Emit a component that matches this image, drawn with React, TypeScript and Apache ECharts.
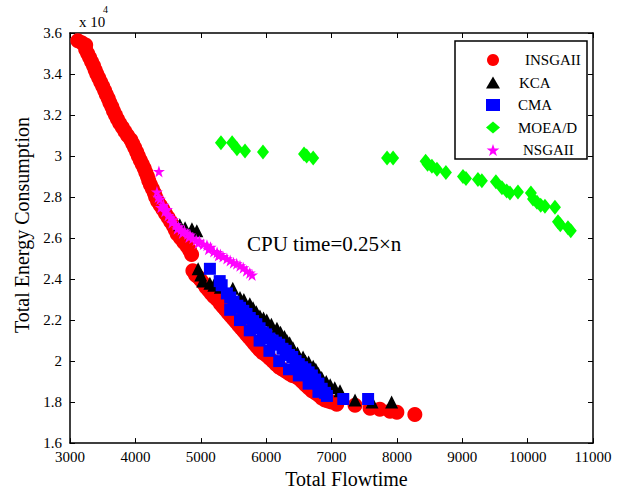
import React, { useEffect, useRef } from "react";
import * as echarts from "echarts";

const seriesNames = ["INSGAII", "KCA", "CMA", "MOEA/D", "NSGAII"];
const xTicks = [3000, 4000, 5000, 6000, 7000, 8000, 9000, 10000, 11000];
const yTicks = [1.6, 1.8, 2.0, 2.2, 2.4, 2.6, 2.8, 3.0, 3.2, 3.4, 3.6];

const insgaii: number[][] = [
  [3120, 3.562], [3180, 3.552], [3240, 3.542], [3240, 3.52], [3270, 3.5], [3300, 3.48], [3330, 3.46],
  [3360, 3.44], [3385, 3.42], [3410, 3.4], [3440, 3.38], [3470, 3.36], [3500, 3.34], [3530, 3.32],
  [3555, 3.3], [3585, 3.28], [3610, 3.26], [3640, 3.24], [3665, 3.22], [3695, 3.2], [3725, 3.18],
  [3760, 3.16], [3800, 3.14], [3840, 3.12], [3880, 3.1], [3930, 3.08], [3960, 3.06], [3990, 3.04],
  [4020, 3.02], [4045, 3.0], [4075, 2.98], [4105, 2.96], [4135, 2.94], [4160, 2.92], [4185, 2.9],
  [4205, 2.88], [4230, 2.86], [4260, 2.84], [4290, 2.82], [4310, 2.8], [4340, 2.78], [4380, 2.76],
  [4420, 2.74], [4460, 2.72], [4500, 2.7], [4540, 2.68], [4580, 2.66], [4610, 2.64], [4640, 2.62],
  [4690, 2.6], [4740, 2.58], [4790, 2.56], [4830, 2.54], [4860, 2.52],
  [4880, 2.44], [4920, 2.42], [4960, 2.41], [5000, 2.395], [5040, 2.38], [5080, 2.36], [5120, 2.345],
  [5160, 2.33], [5200, 2.315], [5250, 2.3], [5300, 2.28], [5340, 2.265], [5380, 2.25], [5420, 2.235],
  [5460, 2.22], [5500, 2.205], [5540, 2.19], [5580, 2.175], [5620, 2.16], [5660, 2.145], [5700, 2.13],
  [5740, 2.115], [5780, 2.1], [5820, 2.085], [5860, 2.07], [5900, 2.055], [5950, 2.04], [6000, 2.03],
  [6050, 2.015], [6100, 2.0], [6150, 1.985], [6200, 1.97], [6250, 1.96], [6300, 1.95], [6350, 1.94],
  [6400, 1.93], [6450, 1.925], [6500, 1.915], [6550, 1.9], [6600, 1.885], [6650, 1.87], [6700, 1.855],
  [6750, 1.845], [6800, 1.835], [6850, 1.82], [6900, 1.81], [6950, 1.805], [7000, 1.8], [7080, 1.79],
  [7360, 1.785], [7590, 1.77], [7740, 1.765], [7895, 1.755], [8000, 1.75], [8275, 1.74],
];

const kca: number[][] = [
  [4680, 2.665], [4760, 2.65], [4865, 2.645], [4940, 2.636],
  [4960, 2.45], [5000, 2.42], [5030, 2.39], [5140, 2.38], [5200, 2.37], [5300, 2.36], [5490, 2.355],
  [5600, 2.31], [5660, 2.3], [5750, 2.28], [5800, 2.26], [5850, 2.24], [5905, 2.22], [5960, 2.21],
  [6010, 2.2], [6080, 2.18], [6165, 2.16], [6220, 2.14], [6280, 2.12], [6318, 2.1], [6360, 2.09],
  [6410, 2.065], [6480, 2.04], [6565, 2.02], [6600, 2.0], [6650, 1.995], [6720, 1.975], [6760, 1.96],
  [6800, 1.94], [6850, 1.92], [6920, 1.9], [6980, 1.885], [7050, 1.87], [7130, 1.855], [7360, 1.81],
  [7620, 1.8], [7920, 1.8],
];

const cma: number[][] = [
  [5140, 2.45], [5290, 2.39], [5320, 2.37], [5400, 2.33], [5450, 2.31], [5500, 2.29], [5560, 2.27],
  [5600, 2.26], [5650, 2.245], [5700, 2.23], [5750, 2.21], [5800, 2.195], [5850, 2.18], [5900, 2.16],
  [5950, 2.14], [6000, 2.13], [6050, 2.11], [6100, 2.1], [6150, 2.09], [6200, 2.08], [6250, 2.06],
  [6300, 2.05], [6350, 2.03], [6400, 2.02], [6450, 2.0], [6500, 1.985], [6550, 1.97], [6600, 1.96],
  [6650, 1.945], [6700, 1.93], [6750, 1.91], [6800, 1.89], [6850, 1.865], [6900, 1.845], [6930, 1.83],
  [7180, 1.815], [7560, 1.815],
  [5450, 2.25], [5600, 2.2], [5750, 2.15], [5900, 2.1], [6050, 2.05], [6200, 2.0], [6350, 1.96],
  [6500, 1.93], [6650, 1.89], [6800, 1.85],
];

const moead: number[][] = [
  [5309, 3.065], [5480, 3.065], [5554, 3.035], [5677, 3.025], [5952, 3.02], [6580, 3.01], [6620, 3.0],
  [6720, 2.99], [7850, 2.99], [7942, 2.99], [8440, 2.975], [8470, 2.96], [8536, 2.95], [8613, 2.935],
  [8750, 2.92], [9011, 2.9], [9057, 2.89], [9240, 2.885], [9300, 2.88], [9515, 2.875], [9607, 2.845],
  [9680, 2.83], [9730, 2.82], [9852, 2.825], [10050, 2.82], [10082, 2.79], [10143, 2.775],
  [10200, 2.76], [10265, 2.755], [10418, 2.75], [10464, 2.68], [10500, 2.665], [10617, 2.65],
  [10660, 2.635],
];

const nsgaii: number[][] = [
  [4360, 2.925],
  [4330, 2.825], [4350, 2.8], [4376, 2.79], [4390, 2.75], [4430, 2.76], [4450, 2.73], [4483, 2.74],
  [4500, 2.71], [4540, 2.7], [4560, 2.675], [4575, 2.69], [4620, 2.665], [4640, 2.645], [4660, 2.655],
  [4700, 2.64], [4720, 2.625], [4750, 2.635], [4800, 2.62], [4820, 2.605], [4835, 2.615], [4880, 2.6],
  [4930, 2.59], [4960, 2.575], [4980, 2.585], [5040, 2.57], [5095, 2.565], [5120, 2.545], [5150, 2.555],
  [5200, 2.535], [5250, 2.53], [5270, 2.515], [5300, 2.52], [5340, 2.51], [5400, 2.5], [5450, 2.49],
  [5500, 2.48], [5550, 2.475], [5600, 2.465], [5650, 2.455], [5700, 2.44], [5750, 2.43], [5785, 2.42],
];

const STAR =
  "path://M50,0 L61.8,35.1 L98.6,35.1 L68.8,56.7 L80.2,91.8 L50,70.1 L19.8,91.8 L31.2,56.7 L1.4,35.1 L38.2,35.1 Z";

const FONT = "Liberation Serif";

export default function App() {
  const ref = useRef<HTMLDivElement>(null);
  useEffect(() => {
    if (!ref.current) return;
    const chart = echarts.init(ref.current, undefined, { renderer: "svg" });
    const axisCommon = {
      type: "value" as const,
      axisLine: { show: true, lineStyle: { color: "#000", width: 1.5 } },
      axisTick: { show: true, inside: true, length: 5, lineStyle: { color: "#000", width: 1 } },
      splitLine: { show: false },
    };
    const datasets = [insgaii, kca, cma, moead, nsgaii];
    const symbols = ["circle", "triangle", "rect", "diamond", STAR];
    const sizes: any[] = [15, 13, 12, [12, 15], 12];
    const colors = ["#ff0000", "#000000", "#0000ff", "#00ff00", "#ff00ff"];
    const legendPad = [25, 19, 18, 18, 23];
    chart.setOption({
      animation: false,
      textStyle: { fontFamily: FONT },
      grid: { left: 70, right: 41, top: 33, bottom: 48, containLabel: false },
      xAxis: [
        {
          ...axisCommon,
          position: "bottom",
          min: xTicks[0],
          max: xTicks[xTicks.length - 1],
          interval: 1000,
          axisLabel: {
            color: "#000",
            fontSize: 15,
            fontFamily: FONT,
            margin: 6,
            formatter: (v: number) => String(v),
          },
          name: "Total Flowtime",
          nameLocation: "middle",
          nameGap: 24,
          nameTextStyle: { color: "#000", fontSize: 20, fontFamily: FONT, padding: [0, 0, 0, 30] },
        },
        {
          ...axisCommon,
          position: "top",
          min: xTicks[0],
          max: xTicks[xTicks.length - 1],
          interval: 1000,
          axisLabel: { show: false },
        },
      ],
      yAxis: [
        {
          ...axisCommon,
          position: "left",
          min: yTicks[0],
          max: yTicks[yTicks.length - 1],
          interval: 0.2,
          axisLabel: {
            color: "#000",
            fontSize: 15,
            fontFamily: FONT,
            margin: 8,
            formatter: (v: number) => String(+v.toFixed(1)),
          },
          name: "Total Energy Consumption",
          nameLocation: "middle",
          nameGap: 35,
          nameTextStyle: { color: "#000", fontSize: 20, fontFamily: FONT, padding: [0, 0, 0, 26] },
        },
        {
          ...axisCommon,
          position: "right",
          min: yTicks[0],
          max: yTicks[yTicks.length - 1],
          interval: 0.2,
          axisLabel: { show: false },
        },
      ],
      legend: {
        orient: "vertical",
        left: 481,
        top: 47,
        itemWidth: 14,
        itemHeight: 12,
        itemGap: 6.5,
        z: 20,
        textStyle: { color: "#000", fontSize: 15, fontFamily: FONT, lineHeight: 16 },
        data: seriesNames.map((n, i) => ({
          name: n,
          textStyle: { padding: [0, 0, 0, legendPad[i] - 5] },
        })),
      },
      graphic: [
        {
          type: "rect",
          shape: { x: 455, y: 41, width: 132, height: 118 },
          style: { fill: "#fff", stroke: "#000", lineWidth: 1.5 },
          z: 15,
        },
        {
          type: "text",
          x: 79,
          y: 14,
          style: { text: "x 10", fill: "#000", fontSize: 15, fontFamily: FONT },
          z: 15,
        },
        {
          type: "text",
          x: 103,
          y: 4,
          style: { text: "4", fill: "#000", fontSize: 10, fontFamily: FONT },
          z: 15,
        },
        {
          type: "text",
          x: 247,
          y: 233,
          style: { text: "CPU time=0.25×n", fill: "#000", fontSize: 21, fontFamily: FONT },
          z: 15,
        },
      ],
      series: datasets.map((d, i) => ({
        name: seriesNames[i],
        type: "scatter",
        data: d,
        symbol: symbols[i],
        symbolSize: sizes[i],
        itemStyle: { color: colors[i], opacity: 1 },
        emphasis: { disabled: true },
      })),
    });
    return () => chart.dispose();
  }, []);
  return (
    <div
      ref={ref}
      style={{ position: "absolute", left: 0, top: 0, width: 634, height: 494, background: "#fff" }}
    />
  );
}
